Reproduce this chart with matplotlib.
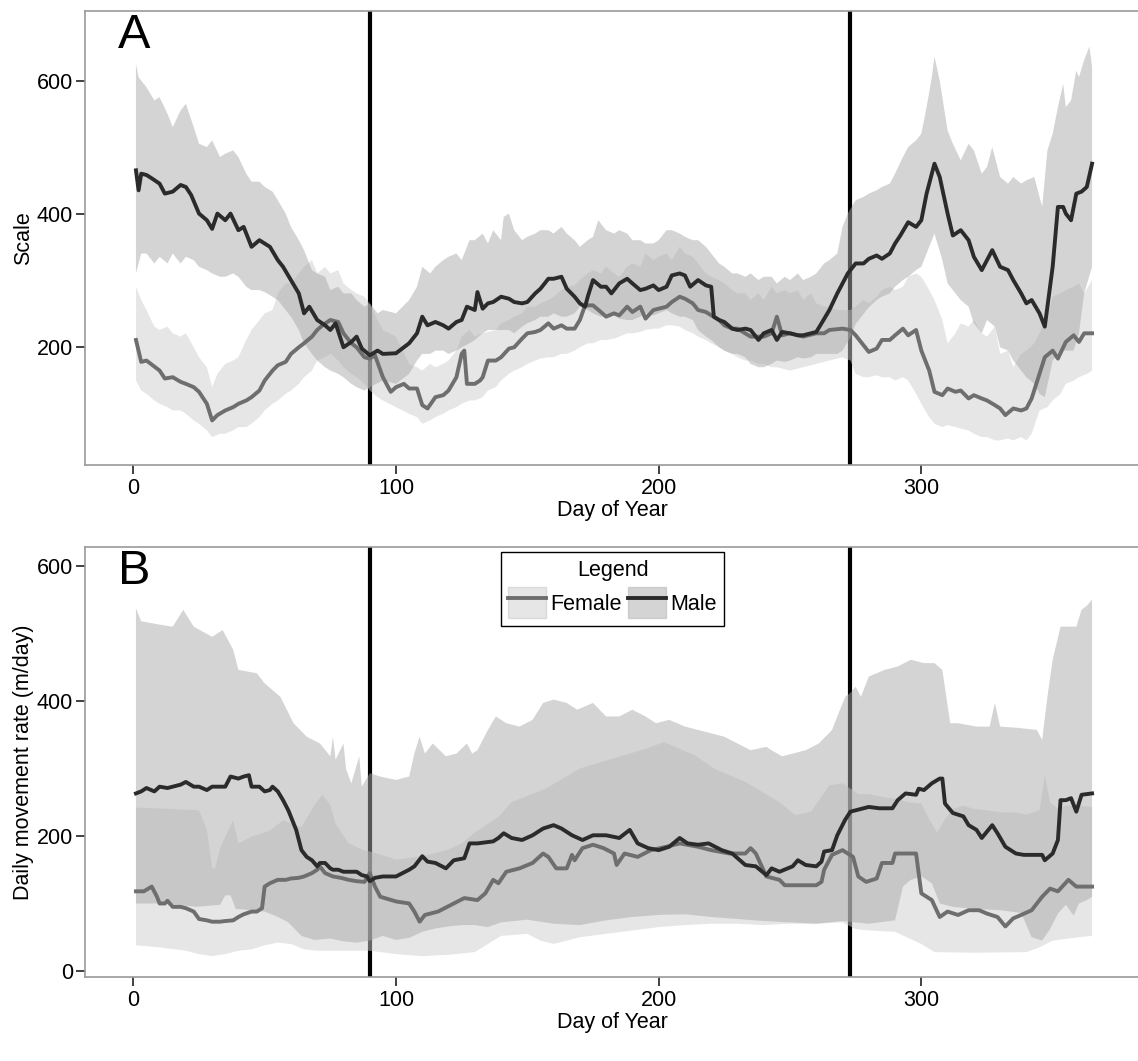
import numpy as np
import matplotlib
matplotlib.use("Agg")
import matplotlib.pyplot as plt
from matplotlib.patches import Patch
from matplotlib.lines import Line2D

plt.rcParams['font.family'] = ['Liberation Sans', 'DejaVu Sans']

# ---------------- Panel A: Scale ----------------
A_MALE_DAY = [1,2,3,5,7,10,12,15,18,20,22,25,28,30,32,35,37,40,42,45,48,50,52,55,57,60,63,65,67,70,73,75,77,80,83,85,87,90,93,95,100,105,108,110,112,115,118,120,123,125,127,130,131,133,135,137,140,143,145,148,150,153,155,158,160,163,165,168,170,172,173,175,178,180,182,185,188,190,193,195,198,200,203,205,208,210,212,215,218,220,221,223,225,228,230,233,235,238,240,243,245,247,250,253,255,258,260,262,265,268,270,272,275,278,280,283,285,288,290,292,295,298,300,302,305,307,310,312,315,318,320,323,325,327,330,333,335,338,340,342,345,347,350,352,354,355,357,359,361,363,365]
A_MALE_VAL = [466,436,461,459,454,446,431,434,444,441,429,401,391,378,401,391,401,376,381,351,361,356,351,331,321,301,281,251,261,241,233,226,236,200,208,216,198,188,195,190,191,206,221,246,233,238,233,228,238,241,261,256,283,258,266,268,276,273,268,266,268,281,288,303,303,306,288,276,266,261,276,301,291,291,281,296,303,296,286,288,293,286,291,308,311,308,291,301,293,291,246,241,238,228,226,228,226,211,221,226,211,223,221,218,218,221,223,236,256,281,296,311,326,326,333,338,333,341,356,368,388,381,391,431,476,456,401,368,376,361,336,316,331,346,321,316,301,281,266,271,251,231,321,411,411,401,391,431,434,441,476]

A_FEM_DAY = [1,3,5,10,12,15,18,20,23,25,28,30,32,35,38,40,43,45,48,50,53,55,58,60,63,65,68,70,72,75,78,80,83,85,88,90,92,95,98,100,103,105,108,110,112,115,118,120,123,125,126,127,130,132,133,135,138,140,143,145,148,150,153,155,158,160,163,165,168,170,172,175,178,180,183,185,188,190,193,195,198,200,203,205,208,210,213,215,218,220,223,225,228,230,235,240,243,245,247,250,255,260,263,265,270,273,275,280,283,285,288,290,293,295,298,300,303,305,308,310,313,315,318,320,323,325,328,330,332,335,338,340,342,345,347,350,352,355,358,360,362,365]
A_FEM_VAL = [211,178,180,165,153,155,148,145,140,133,115,90,98,105,110,115,120,125,135,150,165,173,178,190,200,206,216,226,233,241,238,221,206,200,185,183,188,155,133,140,145,138,138,113,108,125,128,135,155,190,195,145,145,150,155,180,180,185,198,200,213,221,223,226,236,228,233,228,228,241,263,263,253,246,251,248,261,253,261,243,256,258,261,268,276,273,266,256,253,248,241,233,228,228,216,216,221,246,218,221,216,221,221,226,228,226,218,193,198,211,211,218,228,218,226,195,165,133,128,138,133,135,123,128,123,120,113,108,98,108,105,108,123,160,185,195,183,208,218,208,221,221]

A_MALE_HI_DAY = [1,2,5,8,10,13,15,18,20,23,25,28,30,33,35,38,40,43,45,48,50,53,55,58,60,63,65,68,70,73,75,78,80,83,85,88,90,93,95,100,105,108,110,113,115,118,120,123,125,128,130,133,135,137,140,141,143,145,148,150,153,155,158,160,163,165,168,170,173,175,177,180,183,185,188,190,193,195,198,200,203,205,208,210,213,215,218,220,223,225,228,230,233,235,238,240,243,245,248,250,253,255,258,260,263,265,268,270,272,275,278,280,283,285,288,290,293,295,298,300,302,304,305,307,310,312,315,318,320,323,325,327,330,333,335,338,340,343,345,346,348,350,352,354,355,357,359,360,362,364,365]
A_MALE_HI_VAL = [626,606,591,571,576,551,531,556,566,531,506,501,511,486,491,496,486,461,449,449,441,434,421,401,381,361,346,316,311,306,286,291,281,281,271,261,266,251,256,251,271,291,321,311,321,331,336,341,331,361,361,371,356,376,361,396,401,376,361,366,371,376,376,371,381,371,361,351,361,366,391,376,371,376,371,361,361,356,356,361,376,376,371,366,361,361,351,341,326,321,311,311,306,311,301,306,306,296,306,301,311,301,306,311,326,331,341,381,401,421,426,431,436,441,446,461,486,501,511,521,561,606,637,601,526,506,481,506,496,461,471,501,456,446,456,446,451,456,426,411,496,521,561,596,561,571,616,606,632,652,622]

A_MALE_LO_DAY = [1,3,5,8,10,13,15,18,20,23,25,28,30,33,35,38,40,43,45,48,50,53,55,58,60,63,65,68,70,73,75,78,80,83,85,88,90,95,100,105,108,110,113,115,118,120,123,125,128,130,133,135,138,140,143,145,148,150,153,155,158,160,163,165,168,170,173,175,178,180,183,185,188,190,193,195,198,200,203,205,208,210,213,215,218,220,223,225,228,230,233,235,238,240,243,245,248,250,253,255,258,260,263,265,268,270,273,275,278,280,283,285,288,290,293,295,298,300,302,305,308,310,313,315,318,320,323,325,328,330,333,335,338,340,343,345,347,350,353,355,358,360,362,365]
A_MALE_LO_VAL = [311,341,341,326,336,326,341,326,336,331,321,316,311,306,306,311,306,291,286,286,283,276,271,256,246,226,206,190,180,170,165,160,155,145,140,135,140,150,145,160,180,190,190,195,195,190,195,200,206,211,221,226,226,226,226,221,231,236,241,246,246,251,246,246,251,261,256,251,246,246,248,243,241,241,246,251,248,251,256,251,246,246,241,226,216,211,200,195,190,190,185,175,170,170,175,180,178,180,185,183,185,190,190,190,190,195,215,235,250,260,271,276,281,291,301,306,316,321,341,371,331,296,281,271,261,236,221,241,231,200,195,180,165,155,145,130,125,180,195,195,195,221,281,321]

A_FEM_HI_DAY = [1,3,5,8,10,13,15,18,20,23,25,28,30,32,35,38,40,43,45,48,50,53,55,58,60,63,65,68,70,73,75,78,80,83,85,88,90,93,95,100,105,108,110,113,115,118,120,123,125,128,130,133,135,138,140,143,145,148,150,153,155,158,160,163,165,168,170,173,175,178,180,183,185,188,190,193,195,198,200,203,205,208,210,213,215,218,220,223,225,228,230,233,235,238,240,243,245,248,250,253,255,258,260,263,265,268,270,273,275,278,280,283,285,288,290,293,295,298,300,303,305,308,310,313,315,318,320,323,325,328,330,333,335,338,340,343,345,348,350,353,355,358,360,362,365]
A_FEM_HI_VAL = [291,271,256,231,226,231,221,216,221,200,185,170,140,160,175,180,185,211,226,241,251,256,281,296,296,311,321,331,311,321,311,316,296,286,281,276,266,241,226,216,175,170,165,175,170,175,180,195,216,226,216,221,223,226,236,241,246,251,261,261,266,271,276,286,291,293,301,311,316,311,321,311,306,321,326,321,341,331,336,341,331,351,341,336,326,311,306,301,296,286,281,281,271,281,271,291,281,286,281,286,271,281,266,261,261,256,256,256,261,271,266,276,286,291,286,291,306,311,306,286,271,241,206,221,236,231,241,221,216,231,190,195,170,190,195,206,221,246,276,281,286,291,296,281,301]

A_FEM_LO_DAY = [1,3,5,8,10,13,15,18,20,23,25,28,30,33,35,38,40,43,45,48,50,53,55,58,60,63,65,68,70,73,75,78,80,83,85,88,90,93,95,100,105,108,110,113,115,118,120,123,125,128,130,133,135,138,140,143,145,148,150,153,155,158,160,163,165,168,170,173,175,178,180,183,185,188,190,193,195,198,200,203,205,208,210,213,215,218,220,223,225,228,230,233,235,238,240,243,245,250,255,260,265,270,273,275,278,280,283,285,288,290,293,295,298,300,303,305,308,310,313,315,318,320,323,325,328,330,333,335,338,340,342,345,348,350,353,355,358,360,363,365]
A_FEM_LO_VAL = [150,135,130,120,115,110,105,105,100,90,85,75,65,70,70,75,80,80,85,95,105,115,120,130,135,145,155,165,180,185,190,180,170,160,155,145,135,125,120,110,100,95,85,90,95,100,105,110,115,120,120,125,135,140,150,160,165,170,175,180,183,185,185,190,190,195,200,206,206,211,211,213,216,221,221,223,226,228,228,233,233,231,226,221,216,211,206,200,195,190,185,180,180,175,175,170,170,165,170,175,180,185,180,160,155,155,158,155,155,150,155,150,130,115,95,85,80,83,80,78,75,70,65,65,60,60,63,60,65,60,70,105,110,120,130,145,150,155,160,165]

# ---------------- Panel B: daily movement rate ----------------
B_MALE_DAY = [1,3,5,8,10,13,15,18,20,23,25,28,30,33,35,37,40,42,44,45,48,50,52,53,55,57,59,62,64,66,68,70,71,73,75,76,78,80,82,85,87,89,90,92,95,100,105,107,110,112,115,119,122,126,128,131,137,139,141,144,148,152,156,160,163,167,171,175,180,185,189,192,196,200,204,208,211,215,219,224,228,233,237,241,243,246,251,253,256,260,262,263,266,268,271,273,276,280,284,289,291,294,298,299,301,304,307,308,309,312,316,318,321,323,327,329,332,336,339,346,347,350,352,353,355,357,359,361,365]
B_MALE_VAL = [263,266,271,266,273,271,273,276,280,273,273,268,273,273,273,288,285,288,290,273,273,266,268,273,266,253,238,209,179,169,164,155,160,160,152,150,150,147,147,147,142,140,133,138,140,140,150,155,170,162,160,152,164,167,189,189,192,197,204,197,194,201,211,216,211,201,194,201,201,197,209,189,182,179,184,197,189,187,189,179,174,157,155,142,152,147,155,164,157,155,162,177,179,201,224,236,239,243,241,241,253,263,261,270,268,278,285,285,248,234,229,216,209,197,216,204,184,174,172,172,164,174,194,253,253,256,236,261,263]

B_FEM_DAY = [1,4,7,9,10,12,13,15,18,20,23,25,28,30,33,35,38,40,42,45,47,49,50,52,55,58,60,63,65,68,70,71,73,76,79,82,85,88,90,92,94,100,105,107,109,111,116,121,126,131,134,137,139,142,147,152,156,158,161,165,167,168,171,175,179,183,184,187,192,197,203,208,215,220,227,233,235,237,241,246,248,253,260,262,263,266,270,274,276,279,283,285,289,290,294,298,300,304,307,310,314,318,322,325,329,332,335,338,342,346,349,352,356,359,365]
B_FEM_VAL = [118,118,125,110,100,100,104,95,95,93,88,77,75,73,73,74,75,80,84,88,88,93,125,130,135,135,137,138,140,145,150,155,145,140,138,135,133,132,145,125,110,103,100,88,73,83,88,98,108,105,115,135,130,147,152,160,174,169,152,152,172,164,182,187,182,174,157,174,169,179,184,189,184,179,174,174,182,174,140,135,127,127,127,132,150,172,179,169,140,132,137,160,160,174,174,174,115,105,80,88,83,90,90,85,80,66,78,83,90,110,122,118,135,125,125]

B_MALE_HI_DAY = [1,3,10,15,19,23,30,34,38,40,47,50,56,61,66,71,75,76,77,80,81,83,86,87,90,94,100,105,107,109,111,114,119,123,127,129,131,135,138,142,147,152,156,160,165,169,175,180,185,190,195,199,204,210,215,220,225,230,235,241,243,247,251,256,261,266,268,271,273,275,277,280,286,291,296,301,305,308,311,314,321,326,328,330,337,344,346,348,350,353,359,361,363,365]
B_MALE_HI_VAL = [537,518,513,510,535,510,495,505,476,446,441,426,406,367,347,337,318,347,313,337,299,278,318,273,293,288,283,288,322,347,322,337,318,322,337,322,327,357,377,367,362,372,397,402,397,387,397,377,377,387,377,367,372,362,357,352,347,337,327,332,327,318,322,327,337,357,377,406,412,421,406,436,446,451,461,456,456,446,367,367,362,362,397,362,360,357,342,406,461,510,510,535,541,550]

B_MALE_LO_DAY = [1,11,24,33,35,37,39,45,50,55,59,64,69,75,80,85,90,95,100,105,110,115,120,125,130,135,140,150,160,170,180,190,200,210,220,230,240,250,260,270,275,280,290,293,296,300,304,307,312,320,330,338,342,346,349,352,355,358,360,363,365]
B_MALE_LO_VAL = [100,100,95,98,112,112,92,90,88,80,72,52,46,48,44,42,45,52,46,49,58,63,66,68,68,65,72,76,70,68,75,80,83,84,80,77,74,72,70,74,72,70,75,125,135,140,130,100,95,92,90,86,50,45,62,85,98,82,100,105,110]

B_FEM_HI_DAY = [1,15,25,28,30,31,33,35,38,40,45,52,57,64,69,72,75,77,82,87,92,100,110,120,125,130,139,144,157,170,183,195,202,214,221,233,246,252,258,265,270,273,276,280,285,290,295,300,303,306,309,312,316,320,325,330,335,340,345,347,349,352,355,360,365]
B_FEM_HI_VAL = [242,240,238,209,153,151,181,199,223,189,199,208,223,213,246,261,246,218,189,180,175,165,170,180,189,205,228,250,270,300,315,329,339,319,300,280,250,231,236,275,278,270,262,262,258,255,250,248,225,205,225,240,245,240,238,235,235,232,238,290,250,240,245,245,243]

B_FEM_LO_DAY = [1,10,20,25,30,35,40,45,50,55,60,65,70,80,90,100,110,120,130,135,140,150,155,160,165,170,180,190,200,210,220,230,240,250,260,270,275,280,290,300,305,320,340,345,350,360,365]
B_FEM_LO_VAL = [38,35,30,25,22,25,30,32,38,42,40,32,30,30,30,25,22,24,28,40,52,55,45,40,45,50,55,60,65,68,70,70,68,70,70,72,62,60,58,40,28,27,28,35,45,50,52]

# Seasonal boundaries (day of year)
SEASON_BREAKS = [90, 273]

FEMALE_LINE = '#6e6e6e'
MALE_LINE = '#2b2b2b'
FEMALE_FILL = '#cecece'
MALE_FILL = '#aaaaaa'
RIBBON_ALPHA = 0.5
BORDER = '#9a9a9a'
FS = 15.5
LW = 2.8

W, H = 1138, 1061
fig = plt.figure(figsize=(W / 100, H / 100), dpi=100)

x_left, x_right = 85.4, 1140.0
ax_a = fig.add_axes([x_left / W, 1 - 465 / H, (x_right - x_left) / W, (465 - 10.7) / H])
ax_b = fig.add_axes([x_left / W, 1 - 977 / H, (x_right - x_left) / W, (977 - 547) / H])


def ribbon(ax, hi_d, hi_v, lo_d, lo_v, color):
    xs = np.concatenate([hi_d, lo_d[::-1]])
    ys = np.concatenate([hi_v, lo_v[::-1]])
    ax.fill(xs, ys, color=color, alpha=RIBBON_ALPHA, lw=0, zorder=2)


def panel(ax, fem, male, fem_hi, fem_lo, male_hi, male_lo, ylim, letter, ylabel):
    for d in SEASON_BREAKS:
        ax.axvline(d, color='black', lw=3.0, zorder=1)
    ribbon(ax, *map(np.asarray, fem_hi), *map(np.asarray, fem_lo), FEMALE_FILL)
    ribbon(ax, *map(np.asarray, male_hi), *map(np.asarray, male_lo), MALE_FILL)
    ax.plot(*fem, color=FEMALE_LINE, lw=LW, zorder=3, solid_joinstyle='round')
    ax.plot(*male, color=MALE_LINE, lw=LW, zorder=3, solid_joinstyle='round')

    ax.set_xlim(-18.25, 383.25)
    ax.set_ylim(*ylim)
    ax.set_xticks([0, 100, 200, 300])
    ax.set_yticks([0, 200, 400, 600] if ylim[0] < 0 else [200, 400, 600])
    ax.tick_params(direction='out', length=6.5, width=1.3, color='#333333',
                   labelsize=FS, pad=2.5, labelcolor='black')
    for s in ax.spines.values():
        s.set_color(BORDER)
        s.set_linewidth(1.2)
    ax.set_xlabel('Day of Year', fontsize=FS, labelpad=1)
    ax.set_ylabel(ylabel, fontsize=FS, labelpad=2)
    ax.text(0.031, 0.995, letter, transform=ax.transAxes, fontsize=35,
            ha='left', va='top')


panel(ax_a,
      (A_FEM_DAY, A_FEM_VAL), (A_MALE_DAY, A_MALE_VAL),
      (A_FEM_HI_DAY, A_FEM_HI_VAL), (A_FEM_LO_DAY, A_FEM_LO_VAL),
      (A_MALE_HI_DAY, A_MALE_HI_VAL), (A_MALE_LO_DAY, A_MALE_LO_VAL),
      (23, 706), 'A', 'Scale')

panel(ax_b,
      (B_FEM_DAY, B_FEM_VAL), (B_MALE_DAY, B_MALE_VAL),
      (B_FEM_HI_DAY, B_FEM_HI_VAL), (B_FEM_LO_DAY, B_FEM_LO_VAL),
      (B_MALE_HI_DAY, B_MALE_HI_VAL), (B_MALE_LO_DAY, B_MALE_LO_VAL),
      (-8.9, 628), 'B', 'Daily movement rate (m/day)')

handles = [
    (Patch(facecolor=FEMALE_FILL, alpha=RIBBON_ALPHA, edgecolor='#c4c4c4', lw=1),
     Line2D([], [], color=FEMALE_LINE, lw=LW)),
    (Patch(facecolor=MALE_FILL, alpha=RIBBON_ALPHA, edgecolor='#b0b0b0', lw=1),
     Line2D([], [], color=MALE_LINE, lw=LW)),
]
leg = ax_b.legend(handles, ['Female', 'Male'], title='Legend', ncol=2,
                  loc='upper center', bbox_to_anchor=(0.5, 0.988),
                  fontsize=FS, title_fontsize=FS, handlelength=1.75,
                  handleheight=1.85, handletextpad=0.2, columnspacing=0.3,
                  borderpad=0.35, labelspacing=0.3, borderaxespad=0,
                  fancybox=False, framealpha=1, edgecolor='black')
leg.get_frame().set_linewidth(1.0)
leg.set_zorder(5)

fig.savefig('out.png', dpi=100)
